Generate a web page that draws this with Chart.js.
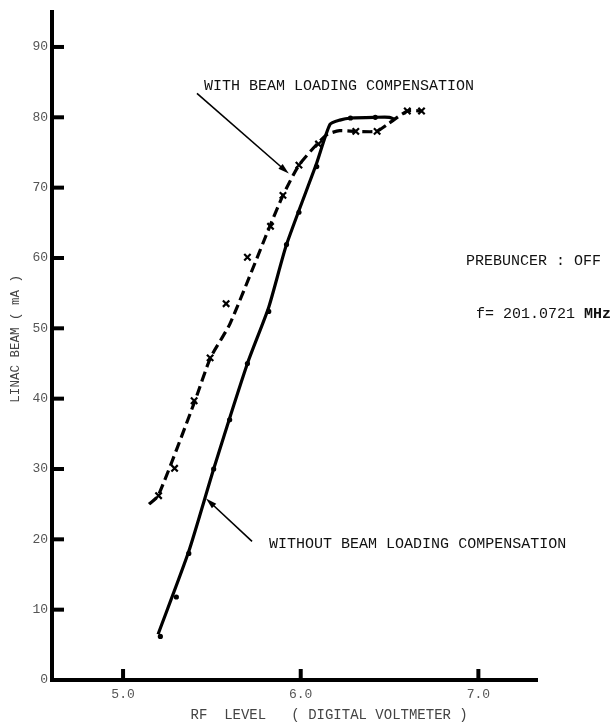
<!DOCTYPE html>
<html>
<head>
<meta charset="utf-8">
<script src="https://cdn.jsdelivr.net/npm/chart.js@4/dist/chart.umd.min.js"></script>
<style>
  html, body { margin: 0; padding: 0; background: #fff; }
  #wrap { width: 610px; height: 724px; position: relative; }
</style>
</head>
<body>
<div id="wrap"><canvas id="c" width="610" height="724"></canvas></div>
<script>
// Axis ticks
const rfTicks = [5.0, 6.0, 7.0];
const beamTicks = [0, 10, 20, 30, 40, 50, 60, 70, 80, 90];

// Measured points, with beam loading compensation (crosses)
const rfWith   = [5.20, 5.29, 5.40, 5.49, 5.58, 5.70, 5.83, 5.90, 5.99, 6.10, 6.31, 6.43, 6.60, 6.68];
const beamWith = [26.2, 30.1, 39.7, 45.8, 53.5, 60.1, 64.5, 68.9, 73.2, 76.2, 78.0, 78.0, 80.9, 80.9];

// Hand-drawn trend through the compensated points (dashed)
const rfWithCurve   = [5.146, 5.198, 5.405, 5.492, 5.601, 5.826, 5.900, 5.990, 6.096, 6.152, 6.219, 6.309, 6.427, 6.483, 6.601, 6.680];
const beamWithCurve = [25.0, 26.2, 39.7, 45.8, 50.6, 64.5, 68.9, 73.2, 76.3, 77.6, 78.1, 78.0, 78.0, 78.9, 80.9, 80.9];

// Measured points, without compensation (dots)
const rfWithout   = [5.21, 5.30, 5.37, 5.51, 5.60, 5.70, 5.82, 5.92, 5.99, 6.09, 6.28, 6.42];
const beamWithout = [6.2, 11.8, 18.0, 30.0, 37.0, 45.0, 52.4, 61.9, 66.5, 73.0, 79.9, 80.0];

// Hand-drawn trend through the uncompensated points (solid)
const rfWithoutCurve   = [5.197, 5.37, 5.51, 5.70, 5.82, 5.92, 6.09, 6.165, 6.22, 6.285, 6.42, 6.50, 6.53];
const beamWithoutCurve = [6.5, 18.3, 30.0, 45.0, 53.0, 61.9, 73.5, 79.0, 79.6, 79.9, 80.0, 80.0, 79.7];

// Annotation anchors in data units
const withLabel    = { rf: 5.455, beam: 84.5, text: 'WITH BEAM LOADING COMPENSATION' };
const withArrow    = { from: [5.416, 83.4], to: [5.933, 72.0] };
const withoutLabel = { rf: 5.822, beam: 19.3, text: 'WITHOUT BEAM LOADING COMPENSATION' };
const withoutArrow = { from: [5.726, 19.7], to: [5.467, 25.8] };
const notePrebuncer = { rf: 6.930, beam: 59.5, text: 'PREBUNCER : OFF' };
const noteFreq      = { rf: 6.987, beam: 52.0, text: 'f= 201.0721 ', unit: 'MHz' };

const xTitle = 'RF  LEVEL   ( DIGITAL VOLTMETER )';
const yTitle = 'LINAC BEAM ( mA )';

const pts = (xs, ys) => xs.map((x, i) => ({ x, y: ys[i] }));

const MONO = '"Liberation Mono", "DejaVu Sans Mono", monospace';

function arrow(ctx, x1, y1, x2, y2) {
  const ang = Math.atan2(y2 - y1, x2 - x1);
  const len = 11, half = 3.2;
  ctx.save();
  ctx.strokeStyle = '#000';
  ctx.fillStyle = '#000';
  ctx.lineWidth = 1.6;
  ctx.beginPath();
  ctx.moveTo(x1, y1);
  ctx.lineTo(x2 - Math.cos(ang) * len * 0.6, y2 - Math.sin(ang) * len * 0.6);
  ctx.stroke();
  ctx.beginPath();
  ctx.moveTo(x2, y2);
  ctx.lineTo(x2 - Math.cos(ang) * len - Math.sin(ang) * half, y2 - Math.sin(ang) * len + Math.cos(ang) * half);
  ctx.lineTo(x2 - Math.cos(ang) * len + Math.sin(ang) * half, y2 - Math.sin(ang) * len - Math.cos(ang) * half);
  ctx.closePath();
  ctx.fill();
  ctx.restore();
}

const inkPlugin = {
  id: 'ink',
  afterDraw(chart) {
    const { ctx, chartArea } = chart;
    const xs = chart.scales.x, ys = chart.scales.y;
    ctx.save();
    // inward tick marks
    ctx.strokeStyle = '#000';
    ctx.lineWidth = 4;
    ctx.lineCap = 'butt';
    beamTicks.forEach(v => {
      if (v === 0) return;
      const py = ys.getPixelForValue(v);
      ctx.beginPath();
      ctx.moveTo(chartArea.left, py);
      ctx.lineTo(chartArea.left + 12, py);
      ctx.stroke();
    });
    rfTicks.forEach(v => {
      const px = xs.getPixelForValue(v);
      ctx.beginPath();
      ctx.moveTo(px, chartArea.bottom);
      ctx.lineTo(px, chartArea.bottom - 11);
      ctx.stroke();
    });

    // axis titles
    ctx.fillStyle = '#444';
    ctx.font = '14px ' + MONO;
    ctx.textAlign = 'center';
    ctx.textBaseline = 'middle';
    ctx.fillText(xTitle, xs.getPixelForValue(6.16), chartArea.bottom + 35);
    ctx.save();
    ctx.translate(16, ys.getPixelForValue(48.5));
    ctx.rotate(-Math.PI / 2);
    ctx.font = '12.5px ' + MONO;
    ctx.fillText(yTitle, 0, 0);
    ctx.restore();

    // annotations
    ctx.fillStyle = '#111';
    ctx.font = '15px ' + MONO;
    ctx.textAlign = 'left';
    [withLabel, withoutLabel, notePrebuncer].forEach(n => {
      ctx.fillText(n.text, xs.getPixelForValue(n.rf), ys.getPixelForValue(n.beam));
    });
    const fx = xs.getPixelForValue(noteFreq.rf), fy = ys.getPixelForValue(noteFreq.beam);
    ctx.fillText(noteFreq.text, fx, fy);
    const w = ctx.measureText(noteFreq.text).width;
    ctx.font = 'bold 15px ' + MONO;
    ctx.fillText(noteFreq.unit, fx + w, fy);

    [withArrow, withoutArrow].forEach(a => {
      arrow(ctx,
        xs.getPixelForValue(a.from[0]), ys.getPixelForValue(a.from[1]),
        xs.getPixelForValue(a.to[0]), ys.getPixelForValue(a.to[1]));
    });
    ctx.restore();
  }
};

new Chart(document.getElementById('c'), {
  type: 'scatter',
  data: {
    datasets: [
      {
        label: 'with compensation (trend)',
        data: pts(rfWithCurve, beamWithCurve),
        showLine: true,
        borderColor: '#000',
        borderWidth: 3.2,
        borderDash: [10, 5],
        tension: 0.2,
        pointRadius: 0
      },
      {
        label: 'without compensation (trend)',
        data: pts(rfWithoutCurve, beamWithoutCurve),
        showLine: true,
        borderColor: '#000',
        borderWidth: 3.2,
        tension: 0.2,
        pointRadius: 0
      },
      {
        label: 'with compensation',
        data: pts(rfWith, beamWith),
        showLine: false,
        pointStyle: 'crossRot',
        pointRadius: 4.5,
        borderColor: '#000',
        pointBorderWidth: 2.2
      },
      {
        label: 'without compensation',
        data: pts(rfWithout, beamWithout),
        showLine: false,
        pointStyle: 'circle',
        pointRadius: 2.6,
        backgroundColor: '#000',
        borderColor: '#000',
        pointBorderWidth: 0
      }
    ]
  },
  options: {
    responsive: false,
    animation: false,
    events: [],
    layout: { padding: { left: 0, top: 10, right: 73, bottom: 0 } },
    plugins: { legend: { display: false }, tooltip: { enabled: false } },
    scales: {
      x: {
        type: 'linear',
        min: 4.6,
        max: 7.33,
        afterBuildTicks: s => { s.ticks = rfTicks.map(v => ({ value: v })); },
        afterFit: s => { s.height = 44; },
        grid: { display: false, drawTicks: false },
        border: { display: true, color: '#000', width: 4 },
        ticks: {
          padding: 7,
          color: '#555',
          font: { family: MONO, size: 13 },
          callback: v => Number(v).toFixed(1)
        }
      },
      y: {
        type: 'linear',
        min: 0,
        max: 95,
        afterBuildTicks: s => { s.ticks = beamTicks.map(v => ({ value: v })); },
        afterFit: s => { s.width = 52; },
        grid: { display: false, drawTicks: false },
        border: { display: true, color: '#000', width: 4 },
        ticks: {
          padding: 4,
          color: '#555',
          font: { family: MONO, size: 13 },
          callback: v => String(v)
        }
      }
    }
  },
  plugins: [inkPlugin]
});
</script>
</body>
</html>
